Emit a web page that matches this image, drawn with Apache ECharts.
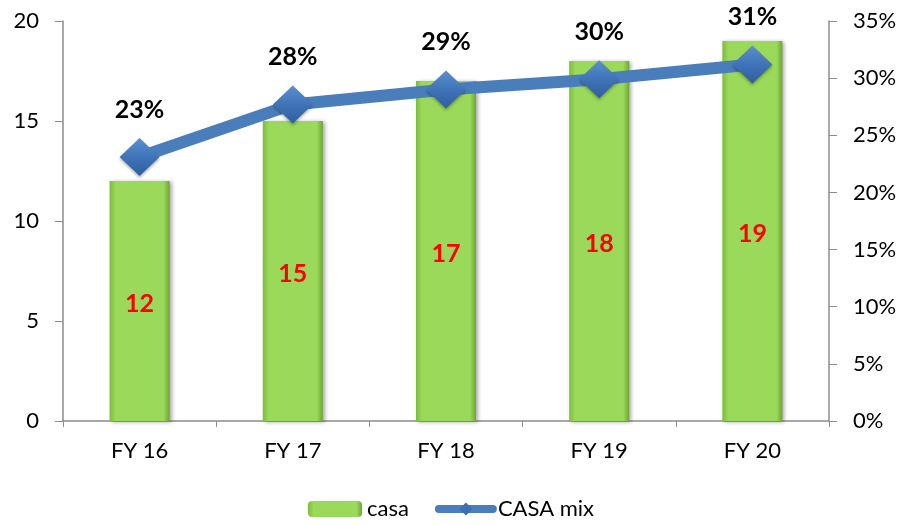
<!DOCTYPE html>
<html>
<head>
<meta charset="utf-8">
<script src="https://cdn.jsdelivr.net/npm/echarts@6/dist/echarts.min.js"></script>
<style>html,body{margin:0;padding:0;background:#fff}#c{width:902px;height:525px}</style>
</head>
<body>
<div id="c"></div>
<script>
const categories = ['FY 16', 'FY 17', 'FY 18', 'FY 19', 'FY 20'];
const casa = [12, 15, 17, 18, 19];
const casaMix = [23.1, 27.7, 29.0, 29.9, 31.2];
const leftTicks = { min: 0, max: 20, interval: 5 };
const rightTicks = { min: 0, max: 35, interval: 5 };

const FONT = 'Lato, "Open Sans", sans-serif';
const chart = echarts.init(document.getElementById('c'));
const axisLine = { show: true, lineStyle: { color: '#8c8c8c', width: 1.5 } };
chart.setOption({
  animation: false,
  textStyle: { fontFamily: FONT },
  grid: { left: 63, right: 73, top: 21, bottom: 104, containLabel: false },
  legend: {
    bottom: 0,
    left: 'center',
    itemWidth: 54,
    itemHeight: 16,
    itemGap: 26,
    textStyle: { fontSize: 22, color: '#000', fontFamily: FONT },
    data: [
      { name: 'casa', itemStyle: { shadowBlur: 0, shadowOffsetX: 0, shadowOffsetY: 0 } },
      { name: 'CASA mix', lineStyle: { width: 8, cap: 'round' },
        itemStyle: { color: '#3a6fb2', shadowBlur: 0, shadowOffsetY: 0 } }
    ]
  },
  xAxis: {
    type: 'category',
    data: categories,
    axisLine: axisLine,
    axisTick: { show: true, length: 6, lineStyle: { color: '#8c8c8c' } },
    axisLabel: { fontSize: 22, color: '#000', margin: 19 }
  },
  yAxis: [
    {
      type: 'value', min: leftTicks.min, max: leftTicks.max, interval: leftTicks.interval,
      axisLine: axisLine,
      axisTick: { show: true, length: 8, lineStyle: { color: '#8c8c8c' } },
      splitLine: { show: false },
      axisLabel: { fontSize: 22, color: '#000', margin: 24 }
    },
    {
      type: 'value', min: rightTicks.min, max: rightTicks.max, interval: rightTicks.interval,
      position: 'right',
      axisLine: axisLine,
      axisTick: { show: true, length: 8, lineStyle: { color: '#8c8c8c' } },
      splitLine: { show: false },
      axisLabel: { fontSize: 22, color: '#000', margin: 24, formatter: '{value}%' }
    }
  ],
  series: [
    {
      name: 'casa',
      type: 'bar',
      data: casa,
      barWidth: 60,
      itemStyle: {
        color: new echarts.graphic.LinearGradient(0, 0, 1, 0, [
          { offset: 0, color: '#7cbd3c' },
          { offset: 0.1, color: '#9ad95a' },
          { offset: 0.9, color: '#9ad95a' },
          { offset: 1, color: '#6ea532' }
        ]),
        shadowColor: 'rgba(0,0,0,0.35)',
        shadowBlur: 4,
        shadowOffsetX: 2,
        shadowOffsetY: 1
      },
      label: {
        show: true, position: 'inside', offset: [0, 3], color: '#ff0000',
        fontSize: 25, fontWeight: 'bold', fontFamily: FONT
      }
    },
    {
      name: 'CASA mix',
      type: 'line',
      yAxisIndex: 1,
      data: casaMix,
      symbol: 'diamond',
      symbolSize: [40, 38],
      lineStyle: { color: '#4a7ebb', width: 12 },
      itemStyle: {
        color: new echarts.graphic.LinearGradient(0, 0, 0, 1, [
          { offset: 0, color: '#5a8fd0' },
          { offset: 0.5, color: '#3f74b8' },
          { offset: 1, color: '#2f5f9e' }
        ]),
        shadowColor: 'rgba(0,0,0,0.3)',
        shadowBlur: 3,
        shadowOffsetY: 2
      },
      label: {
        show: true, position: 'top', distance: 16,
        color: '#000', fontSize: 25, fontWeight: 'bold', fontFamily: FONT,
        formatter: p => Math.round(p.value) + '%'
      },
      z: 5
    }
  ]
});
</script>
</body>
</html>
